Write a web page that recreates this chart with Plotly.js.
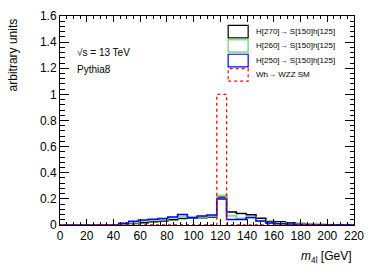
<!DOCTYPE html>
<html><head><meta charset="utf-8">
<script src="https://cdn.plot.ly/plotly-3.0.1.min.js"></script>
<style>html,body{margin:0;padding:0;background:#fff}#c{width:374px;height:268px}</style>
</head><body><div id="c"></div>
<script>
// 30 bins from 0 to 220 GeV
const xMin = 0, xMax = 220, nBins = 30;
const h270 = [0,0,0,0,0,0,0.005,0.012,0.018,0.024,0.03,0.04,0.05,0.052,0.055,0.062,0.215,0.10,0.088,0.078,0.052,0.026,0.024,0.018,0.012,0.004,0.003,0.002,0.002,0.001];
const h260 = [0,0,0,0,0,0,0.01,0.02,0.03,0.036,0.042,0.055,0.066,0.058,0.064,0.07,0.225,0.07,0.05,0.058,0.03,0.018,0.014,0.01,0.006,0.003,0.002,0.002,0.001,0.001];
const h250 = [0,0,0,0,0,0,0.014,0.028,0.038,0.044,0.05,0.062,0.08,0.058,0.068,0.076,0.20,0.042,0.042,0.058,0.03,0.015,0.01,0.008,0.004,0.003,0.002,0.001,0.001,0.001];
const whSM = [0,0,0,0,0,0,0,0,0,0,0,0,0,0,0,0,1.0,0,0,0,0,0,0,0,0,0,0,0,0,0];
const names = ["H[270]\u2192 S[150]h[125]","H[260]\u2192 S[150]h[125]","H[250]\u2192 S[150]h[125]","Wh\u2192 WZZ SM"];
const xTicks = [0,20,40,60,80,100,120,140,160,180,200,220];
const yTicks = [0,0.2,0.4,0.6,0.8,1,1.2,1.4,1.6];

const w = (xMax - xMin) / nBins;
const edges = Array.from({length: nBins + 1}, (_, i) => xMin + i * w);
function steps(vals, color, width, dash) {
  return {x: edges, y: vals.concat([vals[vals.length - 1]]), type: 'scatter', mode: 'lines',
    line: {shape: 'hv', color: color, width: width, dash: dash}, showlegend: false, hoverinfo: 'skip'};
}
const traces = [
  steps(h270, '#000000', 1.5, 'solid'),
  steps(h260, '#8fdc8f', 2, 'solid'),
  steps(h250, '#0000ff', 1.5, 'solid'),
  steps(whSM, '#ff0000', 1.3, 'dot')
];

const font = 'Liberation Sans, Arial, sans-serif';
const legColors = ['#000000', '#8fdc8f', '#0000ff', '#ff0000'];
const legDash = ['solid', 'solid', 'solid', 'dot'];
const legY = [0.925, 0.857, 0.787, 0.718];
const shapes = [], annotations = [];
names.forEach((n, i) => {
  shapes.push({type: 'rect', xref: 'paper', yref: 'paper', x0: 0.572, x1: 0.64, y0: legY[i] - 0.03, y1: legY[i] + 0.03,
    line: {color: legColors[i], width: i === 1 ? 1.6 : 1.2, dash: legDash[i]}});
  annotations.push({xref: 'paper', yref: 'paper', x: 0.66, y: legY[i], text: n, showarrow: false,
    xanchor: 'left', yanchor: 'middle', font: {family: font, size: 8, color: '#000'}});
});
annotations.push({xref: 'paper', yref: 'paper', x: 0.05, y: 0.825, text: '\u221As = 13 TeV', showarrow: false, xanchor: 'left', yanchor: 'middle', font: {family: font, size: 10, color: '#000'}});
annotations.push({xref: 'paper', yref: 'paper', x: 0.05, y: 0.745, text: 'Pythia8', showarrow: false, xanchor: 'left', yanchor: 'middle', font: {family: font, size: 10, color: '#000'}});
annotations.push({xref: 'paper', yref: 'paper', x: -0.16, y: 1.0, text: 'arbitrary units', textangle: -90, showarrow: false, xanchor: 'center', yanchor: 'top', font: {family: font, size: 12, color: '#000'}});
annotations.push({xref: 'paper', yref: 'paper', x: 1.0, y: -0.155, text: '<i>m</i><sub>4l</sub> [GeV]', showarrow: false, xanchor: 'right', yanchor: 'middle', font: {family: font, size: 12, color: '#000'}});

const layout = {
  width: 374, height: 268,
  margin: {l: 60, r: 20, t: 16, b: 43},
  showlegend: false,
  font: {family: font, size: 12, color: '#000'},
  xaxis: {range: [xMin, xMax], tickvals: xTicks, ticks: 'inside', ticklen: 6, tickcolor: '#000',
    showline: true, mirror: 'ticks', linecolor: '#000', showgrid: false, zeroline: false,
    minor: {dtick: 5, tick0: 0, ticks: 'inside', ticklen: 3, tickcolor: '#000', showgrid: false}},
  yaxis: {range: [0, 1.6], tickvals: yTicks, ticks: 'inside', ticklen: 9, tickcolor: '#000',
    showline: true, mirror: 'ticks', linecolor: '#000', showgrid: false, zeroline: false,
    minor: {dtick: 0.04, tick0: 0, ticks: 'inside', ticklen: 4.5, tickcolor: '#000', showgrid: false}},
  shapes: shapes, annotations: annotations
};
Plotly.newPlot('c', traces, layout, {displayModeBar: false, staticPlot: true}).then(gd => {
  document.body.setAttribute('data-ready', String(document.querySelectorAll('path.xtick, path.ytick').length));
});
</script></body></html>
